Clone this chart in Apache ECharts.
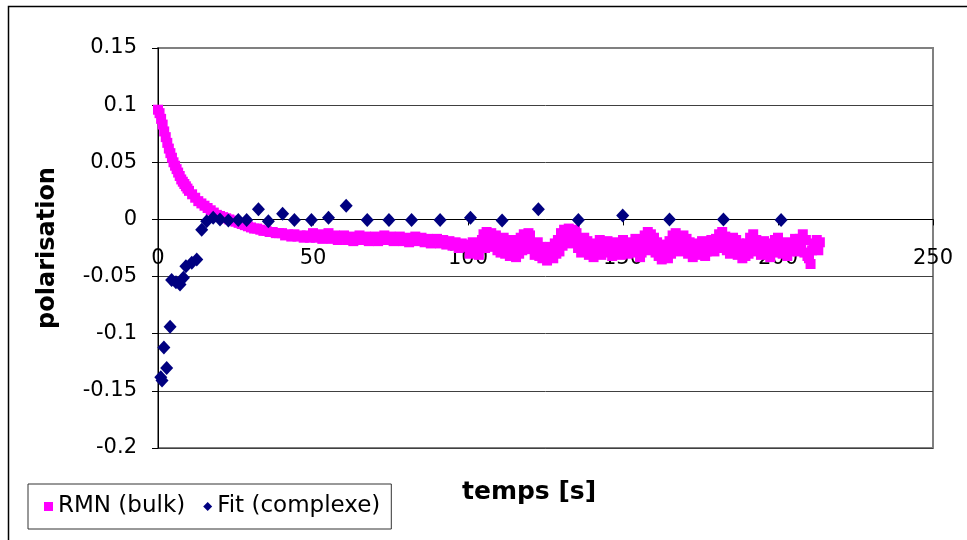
<!DOCTYPE html>
<html>
<head>
<meta charset="utf-8">
<script src="https://cdn.jsdelivr.net/npm/echarts@6/dist/echarts.min.js"></script>
<style>html,body{margin:0;padding:0;background:#fff}#c{width:967px;height:540px}</style>
</head>
<body>
<div id="c"></div>
<script>
// ---- data ----
const seriesNames = ['RMN (bulk)', 'Fit (complexe)'];
const xTitle = 'temps [s]';
const yTitle = 'polarisation';
const xRange = [0, 250, 50];
const yRange = [-0.2, 0.15, 0.05];

// RMN (bulk): decay part (0–100 s)
const rmnTimeA = [
  0,0.5,1,1.5,2,2.5,3,3.5,4,4.5,5,5.5,6,6.5,7,7.5,8,8.5,9,9.5,
  10,11,12,13,14,15,16,17,18,19,
  20,21,22,23,24,25,26,27,28,29,
  30,31,32,33,34,35,36,37,38,39,
  40,41,42,43,44,45,46,47,48,49,
  50,51,52,53,54,55,56,57,58,59,
  60,61,62,63,64,65,66,67,68,69,
  70,71,72,73,74,75,76,77,78,79,
  80,81,82,83,84,85,86,87,88,89,
  90,91,92,93,94,95,96,97,98,99
];
const rmnValueA = [
  0.096,0.093,0.088,0.083,0.077,0.072,0.067,0.062,0.058,0.054,0.050,0.047,0.044,0.041,0.038,0.035,0.033,0.031,0.029,0.027,
  0.025,0.022,0.019,0.016,0.014,0.012,0.010,0.008,0.006,0.004,
  0.003,0.002,0.001,0.000,-0.001,-0.002,-0.003,-0.004,-0.005,-0.006,
  -0.007,-0.008,-0.008,-0.009,-0.010,-0.010,-0.011,-0.011,-0.012,-0.012,
  -0.012,-0.014,-0.013,-0.015,-0.013,-0.015,-0.014,-0.016,-0.014,-0.016,
  -0.012,-0.016,-0.013,-0.017,-0.014,-0.012,-0.017,-0.014,-0.018,-0.015,
  -0.014,-0.018,-0.015,-0.019,-0.016,-0.014,-0.018,-0.015,-0.019,-0.016,
  -0.015,-0.019,-0.016,-0.014,-0.018,-0.015,-0.019,-0.016,-0.015,-0.019,
  -0.016,-0.020,-0.017,-0.015,-0.019,-0.016,-0.020,-0.017,-0.021,-0.018,
  -0.017,-0.021,-0.018,-0.022,-0.019,-0.023,-0.020,-0.025,-0.021,-0.024
];
// RMN (bulk): noisy tail (100–213 s, two readings per second)
const rmnTimeB = [
  100,100.5,101,101.5,102,102.5,103,103.5,104,104.5,105,105.5,106,106.5,107,107.5,108,108.5,109,109.5,
  110,110.5,111,111.5,112,112.5,113,113.5,114,114.5,115,115.5,116,116.5,117,117.5,118,118.5,119,119.5,
  120,120.5,121,121.5,122,122.5,123,123.5,124,124.5,125,125.5,126,126.5,127,127.5,128,128.5,129,129.5,
  130,130.5,131,131.5,132,132.5,133,133.5,134,134.5,135,135.5,136,136.5,137,137.5,138,138.5,139,139.5,
  140,140.5,141,141.5,142,142.5,143,143.5,144,144.5,145,145.5,146,146.5,147,147.5,148,148.5,149,149.5,
  150,150.5,151,151.5,152,152.5,153,153.5,154,154.5,155,155.5,156,156.5,157,157.5,158,158.5,159,159.5,
  160,160.5,161,161.5,162,162.5,163,163.5,164,164.5,165,165.5,166,166.5,167,167.5,168,168.5,169,169.5,
  170,170.5,171,171.5,172,172.5,173,173.5,174,174.5,175,175.5,176,176.5,177,177.5,178,178.5,179,179.5,
  180,180.5,181,181.5,182,182.5,183,183.5,184,184.5,185,185.5,186,186.5,187,187.5,188,188.5,189,189.5,
  190,190.5,191,191.5,192,192.5,193,193.5,194,194.5,195,195.5,196,196.5,197,197.5,198,198.5,199,199.5,
  200,200.5,201,201.5,202,202.5,203,203.5,204,204.5,205,205.5,206,206.5,207,207.5,208,208.5,209,209.5,
  210,210.5,211,211.5,212,212.5,213,213.5
];
const rmnValueB = [
  -0.022,-0.030,-0.026,-0.020,-0.029,-0.023,-0.021,-0.031,-0.025,-0.018,-0.013,-0.025,-0.011,-0.022,-0.017,-0.012,-0.024,-0.015,-0.014,-0.027,
  -0.020,-0.029,-0.024,-0.016,-0.030,-0.019,-0.022,-0.032,-0.018,-0.028,-0.025,-0.033,-0.021,-0.030,-0.016,-0.027,-0.013,-0.024,-0.019,-0.012,
  -0.014,-0.026,-0.022,-0.031,-0.027,-0.020,-0.032,-0.024,-0.034,-0.026,-0.028,-0.036,-0.033,-0.024,-0.026,-0.034,-0.021,-0.030,-0.018,-0.028,
  -0.012,-0.023,-0.009,-0.020,-0.015,-0.008,-0.010,-0.021,-0.017,-0.009,-0.012,-0.025,-0.020,-0.029,-0.023,-0.016,-0.028,-0.019,-0.031,-0.022,
  -0.024,-0.033,-0.021,-0.030,-0.026,-0.018,-0.031,-0.023,-0.022,-0.029,-0.019,-0.027,-0.025,-0.032,-0.028,-0.021,-0.020,-0.028,-0.024,-0.031,
  -0.018,-0.027,-0.023,-0.030,-0.027,-0.020,-0.021,-0.026,-0.017,-0.029,-0.024,-0.033,-0.029,-0.022,-0.014,-0.027,-0.011,-0.022,-0.013,-0.025,
  -0.016,-0.029,-0.020,-0.032,-0.026,-0.035,-0.030,-0.022,-0.024,-0.034,-0.019,-0.030,-0.014,-0.026,-0.012,-0.022,-0.018,-0.028,-0.022,-0.014,
  -0.025,-0.017,-0.030,-0.020,-0.026,-0.033,-0.021,-0.029,-0.024,-0.031,-0.027,-0.019,-0.023,-0.032,-0.028,-0.021,-0.025,-0.018,-0.020,-0.028,
  -0.017,-0.025,-0.013,-0.023,-0.011,-0.021,-0.015,-0.027,-0.019,-0.030,-0.023,-0.016,-0.026,-0.018,-0.031,-0.021,-0.028,-0.034,-0.024,-0.032,
  -0.021,-0.030,-0.016,-0.026,-0.013,-0.023,-0.018,-0.028,-0.022,-0.031,-0.026,-0.019,-0.030,-0.023,-0.025,-0.033,-0.021,-0.029,-0.018,-0.027,
  -0.016,-0.024,-0.022,-0.030,-0.027,-0.020,-0.032,-0.024,-0.028,-0.021,-0.024,-0.017,-0.020,-0.028,-0.017,-0.024,-0.013,-0.029,-0.018,-0.032,
  -0.034,-0.039,-0.027,-0.021,-0.023,-0.018,-0.027,-0.020
];

const fitTime = [0.9,1.3,1.9,2.8,3.9,4.4,5.8,7.1,8.2,9.0,10.9,12.5,14.1,15.7,17.8,20.0,22.7,25.9,28.6,32.4,35.6,40.2,44.0,49.5,55.0,60.7,67.5,74.5,81.8,91.0,100.8,111.0,122.7,135.6,149.9,165.0,182.4,201.0];
const fitValue = [-0.138,-0.141,-0.112,-0.130,-0.094,-0.053,-0.055,-0.057,-0.051,-0.041,-0.038,-0.035,-0.009,-0.0015,0.0015,0.0,-0.001,-0.0005,-0.0005,0.009,-0.0015,0.005,-0.0005,-0.0005,0.0015,0.012,-0.0005,-0.0005,-0.0005,-0.0005,0.0015,-0.001,0.009,-0.0005,0.0035,0.0,0.0,-0.0005];

// ---- chart ----
const FONT = 'DejaVu Sans';
const chart = echarts.init(document.getElementById('c'), null, {renderer: 'canvas'});
const pair = (xs, ys) => xs.map((x, i) => [x, ys[i]]);
const rmnData = pair(rmnTimeA, rmnValueA).concat(pair(rmnTimeB, rmnValueB));

chart.setOption({
  animation: false,
  backgroundColor: '#fff',
  grid: {left: 158, right: 34, top: 48, bottom: 92, show: true, borderColor: '#808080', borderWidth: 2, backgroundColor: 'transparent'},
  xAxis: {
    type: 'value', min: xRange[0], max: xRange[1], interval: xRange[2],
    axisLine: {show: true, onZero: false, lineStyle: {color: '#000', width: 1}},
    axisTick: {show: true, length: 6, lineStyle: {color: '#000'}},
    axisLabel: {margin: 29, fontFamily: FONT, fontSize: 21, color: '#000'},
    splitLine: {show: false}
  },
  yAxis: {
    type: 'value', min: yRange[0], max: yRange[1], interval: yRange[2],
    axisLine: {show: true, onZero: false, lineStyle: {color: '#000', width: 1}},
    axisTick: {show: true, length: 6, lineStyle: {color: '#000'}},
    axisLabel: {margin: 21, fontFamily: FONT, fontSize: 21, color: '#000',
      formatter: v => String(Math.round(v * 100) / 100)},
    splitLine: {show: true, showMaxLine: false, lineStyle: {color: '#404040', width: 1}},
    name: yTitle, nameLocation: 'middle', nameRotate: 90, nameGap: 98,
    nameTextStyle: {fontFamily: FONT, fontSize: 24, fontWeight: 'bold', color: '#000'}
  },
  legend: {
    left: 28, top: 484, orient: 'horizontal',
    padding: [11, 11, 11, 16], itemGap: 18, itemWidth: 9, itemHeight: 9,
    borderColor: '#333', borderWidth: 1, backgroundColor: '#fff',
    textStyle: {fontFamily: FONT, fontSize: 23, color: '#000'},
    data: [{name: seriesNames[0], icon: 'rect'}, {name: seriesNames[1], icon: 'diamond'}]
  },
  graphic: [
    {type: 'rect', silent: true, z: -10, shape: {x: 8.5, y: 6.5, width: 1000, height: 600}, style: {fill: null, stroke: '#000', lineWidth: 1.5}},
    {type: 'text', left: 462, top: 480, style: {text: xTitle, font: 'bold 25px "DejaVu Sans"', fill: '#000'}}
  ],
  series: [
    {name: seriesNames[0], type: 'scatter', symbol: 'rect', symbolSize: 10,
      itemStyle: {color: '#FF00FF', opacity: 1}, data: rmnData, z: 2},
    {name: seriesNames[1], type: 'scatter', symbol: 'diamond', symbolSize: [13, 14],
      itemStyle: {color: '#000080', opacity: 1}, data: pair(fitTime, fitValue), z: 3}
  ]
});

// place the x axis on the y = 0 line, using the library's own y scale
const yZero = chart.convertToPixel({yAxisIndex: 0}, 0);
const yMinPx = chart.convertToPixel({yAxisIndex: 0}, yRange[0]);
chart.setOption({xAxis: {offset: yZero - yMinPx}});
</script>
</body>
</html>
